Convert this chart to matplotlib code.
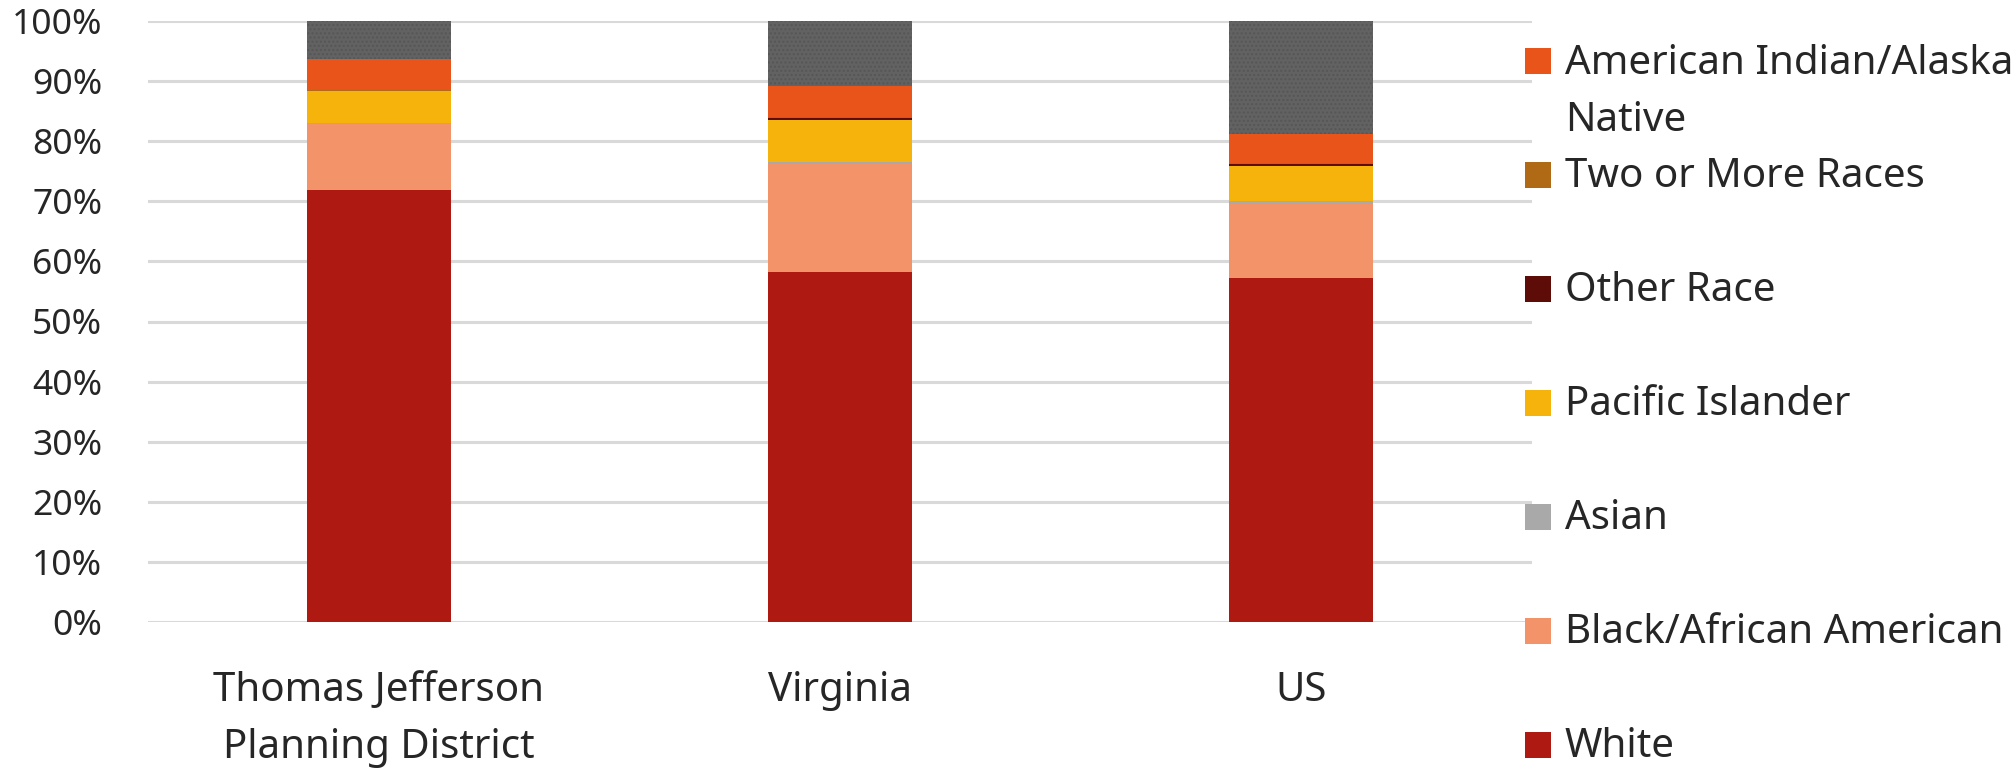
import matplotlib
matplotlib.use("Agg")
import matplotlib.pyplot as plt
from matplotlib.patches import Rectangle
import numpy as np

categories = ["Thomas Jefferson\nPlanning District", "Virginia", "US"]
series_names = ["White", "Black/African American", "Asian", "Pacific Islander",
                "Other Race", "Two or More Races", "American Indian/Alaska\nNative", "Not shown"]
white = [71.8, 58.2, 57.2]
black = [11.0, 18.0, 12.3]
asian = [0.3, 0.3, 0.5]
pacific = [5.2, 7.1, 5.9]
other_race = [0.1, 0.3, 0.3]
two_more = [0.2, 0.2, 0.1]
am_indian = [5.1, 5.1, 4.9]
remainder = [6.3, 10.8, 18.8]
colors = ["#AE1912", "#F2936A", "#A9A9A9", "#F5B30B", "#5E0C07", "#B06A16", "#E8541A", "#626262"]
yticks = [0, 10, 20, 30, 40, 50, 60, 70, 80, 90, 100]
legend_order = [6, 5, 4, 3, 2, 1, 0]

plt.rcParams['font.family'] = ['Noto Sans', 'DejaVu Sans']
plt.rcParams['hatch.linewidth'] = 1.0
W, H = 2014, 768
fig = plt.figure(figsize=(W / 100, H / 100), dpi=100)
ax = fig.add_axes([148 / W, 1 - 622 / H, (1532 - 148) / W, (622 - 21) / H])

data = [white, black, asian, pacific, other_race, two_more, am_indian, remainder]
x = np.arange(len(categories))
bottom = np.zeros(len(categories))
for i, vals in enumerate(data):
    vals = np.array(vals)
    kw = {}
    if i == len(data) - 1:
        kw = dict(hatch='....', edgecolor='#565656', linewidth=0)
    ax.bar(x, vals, 0.312, bottom=bottom, color=colors[i], zorder=3, **kw)
    bottom += vals

ax.set_xlim(-0.5, 2.5)
ax.set_ylim(0, 100)
ax.set_yticks(yticks)
ax.set_yticklabels([f"{v}%" for v in yticks], fontsize=25.5)
ax.set_xticks(x)
ax.set_xticklabels(categories, linespacing=1.57, fontsize=29)
ax.yaxis.grid(True, color="#D9D9D9", linewidth=2.2, zorder=0)
ax.set_axisbelow(True)
for s in ax.spines.values():
    s.set_visible(False)
ax.tick_params(axis='both', length=0, colors="#262626")
ax.tick_params(axis='y', pad=33)
ax.tick_params(axis='x', pad=35)

centres = [61, 175, 289, 403, 517, 631, 745]
line_gap = 58
for c, idx in zip(centres, legend_order):
    fig.add_artist(Rectangle((1525 / W, 1 - (c + 13) / H), 26 / W, 26 / H,
                             transform=fig.transFigure, facecolor=colors[idx], edgecolor='none'))
    label = series_names[idx]
    nextra = label.count("\n")
    fig.text(1565 / W, 1 - (c + 12 + nextra * line_gap) / H, label, ha='left', va='baseline',
             fontsize=29, color="#262626", linespacing=1.57)

fig.savefig("out.png", dpi=100)
